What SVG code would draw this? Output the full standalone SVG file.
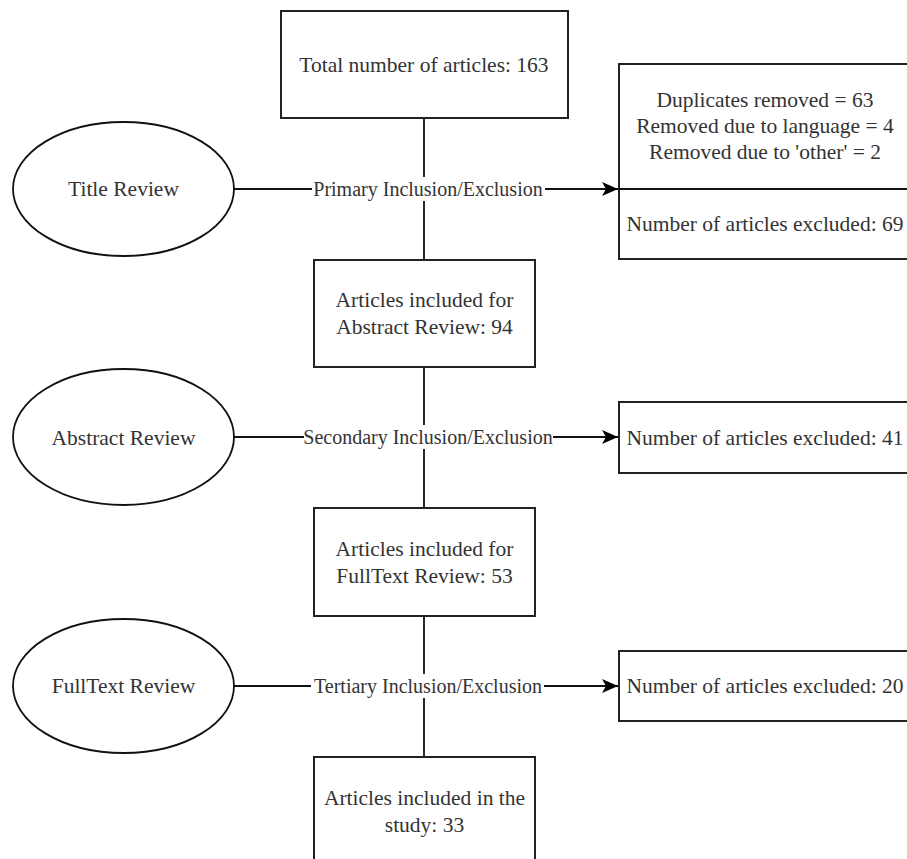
<svg xmlns="http://www.w3.org/2000/svg" width="907" height="859" viewBox="0 0 907 859">
<defs>
<style>
.box{fill:#fff;stroke:#222;stroke-width:2}
.ell{fill:#fff;stroke:#111;stroke-width:1.8}
.line{fill:none;stroke:#111;stroke-width:1.8}
.t{font-family:"Liberation Serif","Times New Roman",serif;font-size:21.5px;fill:#333;text-anchor:middle}
.lbl{font-family:"Liberation Serif","Times New Roman",serif;font-size:20px;fill:#333;text-anchor:middle}
.lblbg{fill:#fff}
</style>
<marker id="arr" markerUnits="userSpaceOnUse" markerWidth="17" markerHeight="15" refX="16" refY="7.5" orient="auto">
<path d="M0,0.5 L16,7.5 L0,14.5 L4,7.5 Z" fill="#000"/>
</marker>
</defs>
<rect width="907" height="859" fill="#fff"/>
<g id="connectors">
<line class="line" x1="424" y1="118" x2="424" y2="260"/>
<line class="line" x1="424" y1="367" x2="424" y2="508"/>
<line class="line" x1="424" y1="616" x2="424" y2="757"/>
<line class="line" x1="234" y1="189" x2="618" y2="189" marker-end="url(#arr)"/>
<line class="line" x1="234" y1="437" x2="618" y2="437" marker-end="url(#arr)"/>
<line class="line" x1="234" y1="686" x2="618" y2="686" marker-end="url(#arr)"/>
<rect class="lblbg" x="312" y="177" width="233" height="24"/>
<text class="lbl" x="428" y="196">Primary Inclusion/Exclusion</text>
<rect class="lblbg" x="304" y="425" width="249" height="24"/>
<text class="lbl" x="428" y="444">Secondary Inclusion/Exclusion</text>
<rect class="lblbg" x="311" y="674" width="233" height="24"/>
<text class="lbl" x="428" y="693">Tertiary Inclusion/Exclusion</text>
</g>
<g id="total">
<rect class="box" x="281" y="11" width="287" height="107"/>
<text class="t" x="424" y="72">Total number of articles: 163</text>
</g>
<g id="excluded1">
<rect class="box" x="619" y="64" width="295" height="195"/>
<line class="line" x1="619" y1="189" x2="914" y2="189" stroke="#222" stroke-width="2"/>
<text class="t" x="765" y="107">Duplicates removed = 63</text>
<text class="t" x="765" y="133">Removed due to language = 4</text>
<text class="t" x="765" y="159">Removed due to 'other' = 2</text>
<text class="t" x="765" y="231">Number of articles excluded: 69</text>
</g>
<g id="title-review">
<ellipse class="ell" cx="123.5" cy="189" rx="110.5" ry="67"/>
<text class="t" x="123.5" y="196">Title Review</text>
</g>
<g id="abstract-included">
<rect class="box" x="314" y="260" width="221" height="107"/>
<text class="t" x="424.5" y="307">Articles included for</text>
<text class="t" x="424.5" y="334">Abstract Review: 94</text>
</g>
<g id="abstract-review">
<ellipse class="ell" cx="123.5" cy="437" rx="110.5" ry="68"/>
<text class="t" x="123.5" y="445">Abstract Review</text>
</g>
<g id="excluded2">
<rect class="box" x="619" y="402" width="295" height="71"/>
<text class="t" x="765" y="445">Number of articles excluded: 41</text>
</g>
<g id="fulltext-included">
<rect class="box" x="314" y="508" width="221" height="108"/>
<text class="t" x="424.5" y="556">Articles included for</text>
<text class="t" x="424.5" y="583">FullText Review: 53</text>
</g>
<g id="fulltext-review">
<ellipse class="ell" cx="123.5" cy="686" rx="110.5" ry="67"/>
<text class="t" x="123.5" y="693">FullText Review</text>
</g>
<g id="excluded3">
<rect class="box" x="619" y="651" width="295" height="70"/>
<text class="t" x="765" y="693">Number of articles excluded: 20</text>
</g>
<g id="study">
<rect class="box" x="314" y="757" width="221" height="108"/>
<text class="t" x="424.5" y="805">Articles included in the</text>
<text class="t" x="424.5" y="832">study: 33</text>
</g>
</svg>
